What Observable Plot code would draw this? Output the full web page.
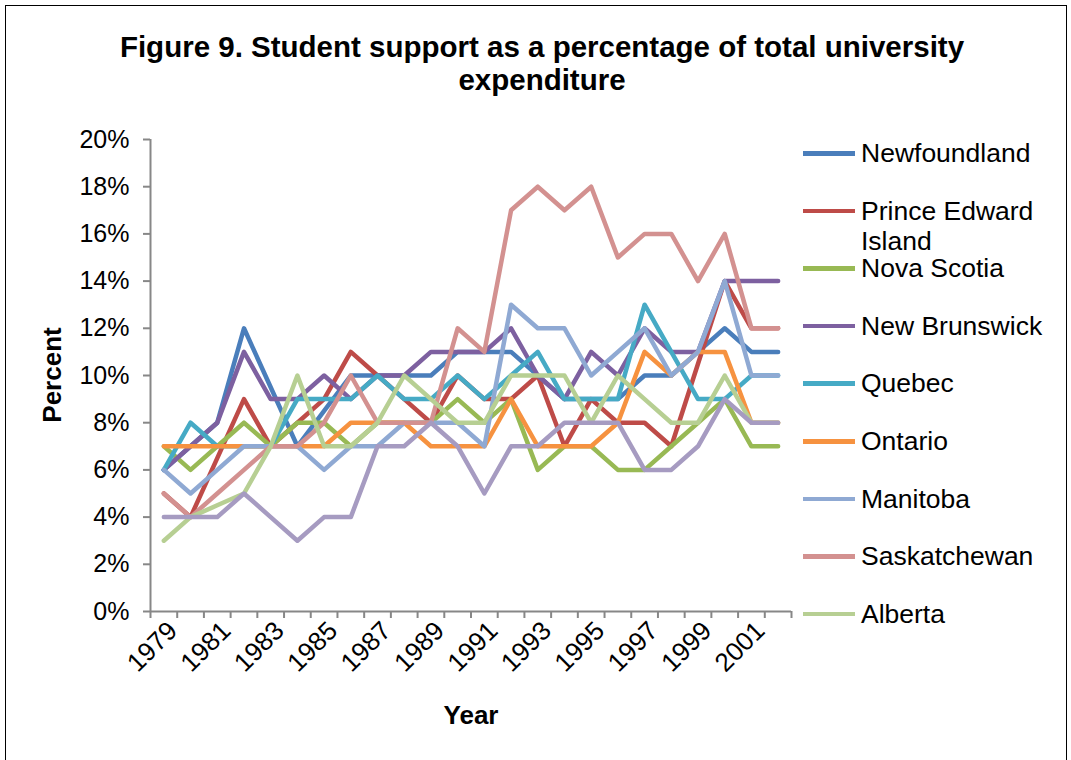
<!DOCTYPE html>
<html>
<head>
<meta charset="utf-8">
<script src="https://cdn.jsdelivr.net/npm/d3@7"></script>
<script src="https://cdn.jsdelivr.net/npm/@observablehq/plot@0.6"></script>
<style>
  html, body { margin: 0; padding: 0; background: #fff; }
  #fig { position: relative; width: 1071px; height: 760px; overflow: hidden; background: #fff;
         font-family: "Liberation Sans", Arial, sans-serif; color: #000; }
  #frame { position: absolute; left: 5px; top: 5px; width: 1060px; height: 820px; border: 1.5px solid #000; }
  #title { position: absolute; left: 0; top: 30px; width: 1084px; text-align: center;
           font-weight: bold; font-size: 29.5px; line-height: 33px; }
  .axis-title { position: absolute; font-weight: bold; font-size: 26px; white-space: nowrap; }
  #ylab { left: 52px; top: 375px; transform: translate(-50%, -50%) rotate(-90deg); }
  #xlab { left: 471px; top: 715px; transform: translate(-50%, -50%); }
  #chart { position: absolute; left: 0; top: 0; }
  .leg { position: absolute; left: 803px; width: 262px; font-size: 26.5px; line-height: 30px; }
  .leg .swatch { position: absolute; left: 0; top: 13px; width: 52px; height: 4.5px; }
  .leg .name { position: absolute; left: 58px; top: 0; width: 205px; }
</style>
</head>
<body>
<div id="fig">
  <div id="frame"></div>
  <div id="title">Figure 9. Student support as a percentage of total university<br>expenditure</div>
  <div id="chart"></div>
  <div class="axis-title" id="ylab">Percent</div>
  <div class="axis-title" id="xlab">Year</div>
</div>
<script>
// Years on the category axis
const years = d3.range(1979, 2003);
const yearLabels = [1979, 1981, 1983, 1985, 1987, 1989, 1991, 1993, 1995, 1997, 1999, 2001];
const percentTicks = [0, 0.02, 0.04, 0.06, 0.08, 0.10, 0.12, 0.14, 0.16, 0.18, 0.20];

// Provinces (series order) and their line colours
const provinces = ["Newfoundland", "Prince Edward Island", "Nova Scotia", "New Brunswick", "Quebec",
  "Ontario", "Manitoba", "Saskatchewan", "Alberta", "British Columbia"];
const colors = ["#4A7EBB", "#BE4B48", "#98B954", "#7D60A0", "#46AAC5",
  "#F69240", "#8FA9D3", "#D39190", "#B7CF93", "#A69BC1"];
// Entries listed in the legend box
const legendNames = provinces.slice(0, 9);

// Student support, percent of total university expenditure, 1979–2002
const newfoundland   = [6, 7, 8, 12, 9.5, 7, 8.5, 10, 10, 10, 10, 11, 11, 11, 10, 9, 9, 9, 10, 10, 11, 12, 11, 11];
const princeEdward   = [5, 4, 6.5, 9, 7, 8, 9, 11, 10, 9, 8, 10, 9, 9, 10, 7, 9, 8, 8, 7, 10.5, 14, 12, 12];
const novaScotia     = [7, 6, 7, 8, 7, 8, 8, 7, 8, 8, 8, 9, 8, 9, 6, 7, 7, 6, 6, 7, 8, 9, 7, 7];
const newBrunswick   = [6, 7, 8, 11, 9, 9, 10, 9, 10, 10, 11, 11, 11, 12, 10, 9, 11, 10, 12, 11, 11, 14, 14, 14];
const quebec         = [6, 8, 7, 7, 7, 9, 9, 9, 10, 9, 9, 10, 9, 10, 11, 9, 9, 9, 13, 11, 9, 9, 10, 10];
const ontario        = [7, 7, 7, 7, 7, 7, 7, 8, 8, 8, 7, 7, 7, 9, 7, 7, 7, 8, 11, 10, 11, 11, 8, 8];
const manitoba       = [6, 5, 6, 7, 7, 7, 6, 7, 7, 8, 8, 8, 7, 13, 12, 12, 10, 11, 12, 10, 11, 14, 10, 10];
const saskatchewan   = [5, 4, 5, 6, 7, 7, 8, 10, 8, 8, 8, 12, 11, 17, 18, 17, 18, 15, 16, 16, 14, 16, 12, 12];
const alberta        = [3, 4, 4.5, 5, 7, 10, 7, 7, 8, 10, 9, 8, 8, 10, 10, 10, 8, 10, 9, 8, 8, 10, 8, 8];
const britishColumbia = [4, 4, 4, 5, 4, 3, 4, 4, 7, 7, 8, 7, 5, 7, 7, 8, 8, 8, 6, 6, 7, 9, 8, 8];

const series = [newfoundland, princeEdward, novaScotia, newBrunswick, quebec,
  ontario, manitoba, saskatchewan, alberta, britishColumbia];

// Long table: one row per province and year
const rows = provinces.flatMap((p, i) =>
  years.map((year, j) => ({province: p, year, value: series[i][j] / 100})));

// Category boundaries, where the axis tick marks sit
const boundaries = d3.range(years[0] - 0.5, years[years.length - 1] + 1, 1);
const axisGrey = "#878787";

const chart = Plot.plot({
  width: 1071,
  height: 760,
  marginLeft: 150,
  marginRight: 280,
  marginTop: 139,
  marginBottom: 149,
  style: {fontFamily: "'Liberation Sans', Arial, sans-serif", fontSize: "25px", color: "#000", background: "transparent", overflow: "visible"},
  x: {type: "linear", domain: [years[0] - 0.5, years[years.length - 1] + 0.5]},
  y: {domain: [0, 0.2]},
  color: {domain: provinces, range: colors},
  marks: [
    Plot.axisY({ticks: percentTicks, tickSize: 7, tickPadding: 14, tickFormat: d3.format(".0%"),
      label: null, stroke: axisGrey, strokeWidth: 2, fontSize: 25}),
    Plot.ruleX([years[0] - 0.5], {stroke: axisGrey, strokeWidth: 2}),
    Plot.axisX({ticks: boundaries, tickSize: 7, tickFormat: () => "", label: null,
      stroke: axisGrey, strokeWidth: 2}),
    Plot.axisX({ticks: yearLabels, tickSize: 0, tickPadding: 15, tickRotate: -45,
      tickFormat: d => String(d), label: null, fontSize: 26, dx: 9}),
    Plot.ruleY([0], {stroke: axisGrey, strokeWidth: 2}),
    Plot.line(rows, {x: "year", y: "value", z: "province", stroke: "province",
      strokeWidth: 4.5, strokeLinejoin: "round", strokeLinecap: "round"})
  ]
});
document.getElementById("chart").appendChild(chart);

// Legend box on the right
const fig = document.getElementById("fig");
legendNames.forEach((name, i) => {
  const item = document.createElement("div");
  item.className = "leg";
  item.style.top = (153 + i * 57.6 - 15) + "px";
  const sw = document.createElement("div");
  sw.className = "swatch";
  sw.style.background = colors[provinces.indexOf(name)];
  const label = document.createElement("div");
  label.className = "name";
  label.textContent = name;
  item.appendChild(sw);
  item.appendChild(label);
  fig.appendChild(item);
});
</script>
</body>
</html>
